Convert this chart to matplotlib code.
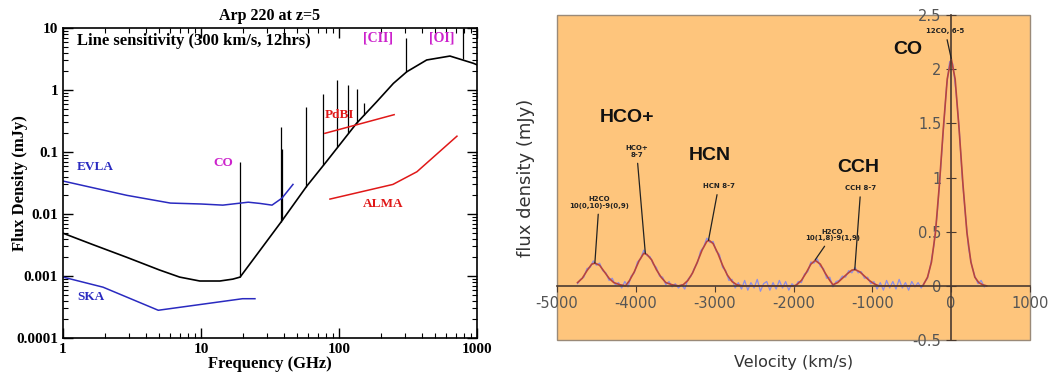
import matplotlib
matplotlib.use("Agg")
from matplotlib import pyplot as plt
from matplotlib.patches import Rectangle

plt.rcParams["axes.unicode_minus"] = False

# ---- left panel: Arp 220 at z=5, line sensitivity ----
sed_freq = [1, 1.65, 2.9, 5.0, 7.0, 9.8, 13.7, 17, 19.2, 26.8, 38, 58.3,
            81.5, 134, 188, 248, 310, 432, 637, 940, 1000]
sed_flux = [0.0049, 0.0032, 0.0020, 0.00125, 0.00096, 0.00083, 0.00083,
            0.00089, 0.00096, 0.0026, 0.0074, 0.028, 0.071, 0.29, 0.65,
            1.28, 1.97, 3.05, 3.53, 2.70, 2.55]

spike_freq = [19.2, 38, 38.8, 57.6, 76.6, 96.8, 116, 135, 152, 306, 793]
spike_base = [0.00096, 0.0074, 0.008, 0.027, 0.062, 0.12, 0.2, 0.29, 0.40, 1.93, 3.2]
spike_top = [0.07, 0.25, 0.11, 0.54, 0.85, 1.45, 1.2, 1.05, 0.62, 6.9, 10]

evla_freq = [1, 2.9, 6.0, 10, 14.4, 22, 26.8, 32.7, 38.6, 46.4]
evla_flux = [0.034, 0.020, 0.015, 0.0145, 0.0139, 0.0155, 0.0148, 0.0139, 0.018, 0.030]
ska_freq = [1, 1.95, 4.9, 20, 24.6]
ska_flux = [0.00096, 0.00066, 0.00028, 0.00043, 0.00043]
pdbi_freq = [79, 251]
pdbi_flux = [0.20, 0.40]
alma_freq = [86, 246, 367, 716]
alma_flux = [0.0174, 0.030, 0.048, 0.18]

# ---- right panel: spectrum ----
blue_vel = list(range(-4740, 421, 40))
blue_flux = [
    0.02, 0.06, 0.08, 0.16, 0.17, 0.23, 0.19, 0.21, 0.14, 0.12,
    0.05, 0.07, 0.01, 0.03, -0.02, 0.04, -0.01, 0.09, 0.12, 0.22,
    0.25, 0.33, 0.28, 0.27, 0.20, 0.17, 0.09, 0.08, 0.01, 0.04,
    -0.01, 0.02, -0.02, 0.01, -0.03, 0.06, 0.09, 0.16, 0.21, 0.32,
    0.36, 0.44, 0.40, 0.41, 0.32, 0.29, 0.17, 0.14, 0.05, 0.06,
    -0.02, 0.03, -0.03, 0.05, -0.04, 0.03, -0.02, 0.06, -0.05, 0.02,
    0.04, -0.04, 0.03, -0.03, 0.05, -0.02, 0.04, -0.04, 0.02, -0.01,
    0.04, 0.03, 0.11, 0.13, 0.22, 0.21, 0.25, 0.18, 0.16, 0.07,
    0.08, -0.01, 0.04, 0.05, 0.09, 0.08, 0.14, 0.12, 0.17, 0.12,
    0.13, 0.07, 0.08, 0.02, 0.04, -0.03, 0.03, -0.04, 0.05, -0.02,
    0.04, -0.03, 0.06, -0.02, 0.03, -0.04, 0.04, -0.01, 0.03, -0.02,
    0.03, 0.07, 0.20, 0.37, 0.64, 1.02, 1.43, 1.83, 2.07, 2.05,
    1.80, 1.47, 1.00, 0.66, 0.35, 0.19, 0.09, 0.02, 0.05, -0.01,
]

fit_vel = [-4740, -4680, -4620, -4560, -4520, -4460, -4400, -4340, -4280, -4200, -4130,
           -4080, -4020, -3960, -3900, -3860, -3800, -3740, -3680, -3620, -3540, -3460,
           -3400, -3340, -3280, -3220, -3160, -3100, -3070, -3020, -2960, -2900, -2840,
           -2780, -2720, -2650, -1990,
           -1960, -1900, -1840, -1780, -1725, -1660, -1600, -1540, -1500,
           -1440, -1380, -1320, -1260, -1220, -1160, -1100, -1040, -980, -920, -360,
           -300, -250, -200, -150, -100, -50, 0, 50, 100, 150, 200, 250, 300, 350, 400, 450]
fit_flux = [0.03, 0.07, 0.14, 0.20, 0.21, 0.19, 0.13, 0.07, 0.03, 0.01, 0.00,
            0.05, 0.13, 0.23, 0.30, 0.29, 0.24, 0.15, 0.08, 0.03, 0.01, 0.00,
            0.01, 0.05, 0.12, 0.22, 0.33, 0.41, 0.42, 0.39, 0.30, 0.19, 0.10,
            0.04, 0.01, 0.00, 0.00,
            0.01, 0.05, 0.12, 0.20, 0.235, 0.20, 0.12, 0.05, 0.01,
            0.03, 0.07, 0.11, 0.145, 0.15, 0.13, 0.09, 0.05, 0.02, 0.00, 0.00,
            0.08, 0.22, 0.49, 0.93, 1.45, 1.91, 2.10, 1.91, 1.45, 0.93, 0.49, 0.22, 0.08, 0.03, 0.01, 0.00]

big_labels = ["HCO+", "HCN", "CCH", "CO"]
big_vel = [-4115, -3061, -1180, -552]
big_flux = [1.55, 1.20, 1.09, 2.18]

small_labels = ["H2CO\n10(0,10)-9(0,9)", "HCO+\n8-7", "HCN 8-7",
                "H2CO\n10(1,8)-9(1,9)", "CCH 8-7", "12CO, 6-5"]
small_vel = [-4467, -3990, -2950, -1507, -1147, -75]
small_flux = [0.77, 1.24, 0.92, 0.47, 0.90, 2.35]
peak_vel = [-4520, -3880, -3079, -1725, -1223, 0]
peak_flux = [0.21, 0.30, 0.42, 0.24, 0.15, 2.10]

SERIF = "Liberation Serif"
BLUE = "#2a2ac0"
RED = "#e01818"
MAG = "#cc22cc"


def left_panel(fig):
    ax = fig.add_axes([0.0599, 0.1011, 0.3935, 0.8244])
    ax.set_xscale("log")
    ax.set_yscale("log")
    ax.plot(sed_freq, sed_flux, color="black", lw=1.2)
    ax.vlines(spike_freq, spike_base, spike_top, color="black", lw=0.9)
    ax.plot(evla_freq, evla_flux, color=BLUE, lw=1.1)
    ax.plot(ska_freq, ska_flux, color=BLUE, lw=1.1)
    ax.plot(pdbi_freq, pdbi_flux, color=RED, lw=1.1)
    ax.plot(alma_freq, alma_flux, color=RED, lw=1.1)
    ax.set_xlim(1, 1000)
    ax.set_ylim(1e-4, 10)

    font = dict(family=SERIF, weight="bold")
    ax.set_xticks([1, 10, 100, 1000], ["1", "10", "100", "1000"])
    ax.set_yticks([1e-4, 1e-3, 1e-2, 0.1, 1, 10],
                  ["0.0001", "0.001", "0.01", "0.1", "1", "10"])
    for lab in ax.get_xticklabels() + ax.get_yticklabels():
        lab.set_fontfamily(SERIF)
        lab.set_fontweight("bold")
        lab.set_fontsize(11)
    ax.tick_params(which="both", direction="in", top=True, right=True)
    ax.tick_params(which="major", length=7, width=1)
    ax.tick_params(which="minor", length=3.5, width=0.8)
    for sp in ax.spines.values():
        sp.set_linewidth(1.2)

    ax.set_title("Arp 220 at z=5", fontsize=11.5, pad=6, **font)
    ax.set_xlabel("Frequency (GHz)", fontsize=12, **font)
    ax.set_ylabel("Flux Density (mJy)", fontsize=12, **font)
    ax.xaxis.set_label_coords(0.5, -0.058)
    ax.yaxis.set_label_coords(-0.085, 0.5)

    ax.text(0.034, 0.958, "Line sensitivity (300 km/s, 12hrs)", transform=ax.transAxes,
            fontsize=12, ha="left", va="center", **font)
    ax.text(1.26, 0.057, "EVLA", color=BLUE, fontsize=9.5, ha="left", va="center", **font)
    ax.text(1.26, 0.00046, "SKA", color=BLUE, fontsize=9.5, ha="left", va="center", **font)
    ax.text(14.4, 0.066, "CO", color=MAG, fontsize=9.5, ha="center", va="center", **font)
    ax.text(101, 0.40, "PdBI", color=RED, fontsize=9.5, ha="center", va="center", **font)
    ax.text(208, 0.0145, "ALMA", color=RED, fontsize=9.5, ha="center", va="center", **font)
    ax.text(191, 7, "[CII]", color=MAG, fontsize=10, ha="center", va="center", **font)
    ax.text(558, 7, "[OI]", color=MAG, fontsize=10, ha="center", va="center", **font)


def right_panel(fig):
    ax = fig.add_axes([0.5295, 0.0957, 0.4496, 0.8644])
    ax.set_facecolor("#fec57c")
    ax.plot(blue_vel, blue_flux, color="#8d8de8", lw=0.9)
    ax.plot(fit_vel, fit_flux, color="#b8443c", lw=1.2)
    ax.set_xlim(-5000, 1000)
    ax.set_ylim(-0.5, 2.5)

    for s in ("top", "right"):
        ax.spines[s].set_visible(False)
    ax.spines["left"].set_position(("data", 0))
    ax.spines["bottom"].set_position(("data", 0))
    for s in ("left", "bottom"):
        ax.spines[s].set_color("#4a3a30")
        ax.spines[s].set_linewidth(1.2)
    ax.add_patch(Rectangle((0, 0), 1, 1, transform=ax.transAxes, fill=False,
                           edgecolor="#9a8a78", lw=1, clip_on=False))

    ax.set_xticks([-5000, -4000, -3000, -2000, -1000, 0, 1000])
    ax.set_yticks([-0.5, 0, 0.5, 1, 1.5, 2, 2.5],
                  ["-0.5", "0", "0.5", "1", "1.5", "2", "2.5"])
    ax.tick_params(colors="#4a3a30", labelcolor="#555555", labelsize=10.5)
    ax.tick_params(axis="x", direction="out", length=4)
    ax.tick_params(axis="y", direction="inout", length=7)

    ax.set_xlabel("Velocity (km/s)", fontsize=11.5, color="#333333")
    ax.set_ylabel("flux density (mJy)", fontsize=13, color="#333333")
    ax.xaxis.set_label_coords(0.5, -0.046)
    ax.yaxis.set_label_coords(-0.047, 0.5)

    for name, v, f in zip(big_labels, big_vel, big_flux):
        ax.text(v, f, name, fontsize=14, fontweight="bold", family="Liberation Sans",
                ha="center", va="center", color="#111111")
    for name, v, f, pv, pf in zip(small_labels, small_vel, small_flux, peak_vel, peak_flux):
        ax.annotate(name, xy=(pv, pf), xytext=(v, f), fontsize=5, fontweight="bold",
                    ha="center", va="center", linespacing=1.1, color="#222222",
                    arrowprops=dict(arrowstyle="-", color="#222222", lw=0.9,
                                    shrinkA=2, shrinkB=0))


def main():
    fig = plt.figure(figsize=(10.52, 3.76), dpi=100)
    left_panel(fig)
    right_panel(fig)
    fig.savefig("out.png", dpi=100)


if __name__ == "__main__":
    main()
